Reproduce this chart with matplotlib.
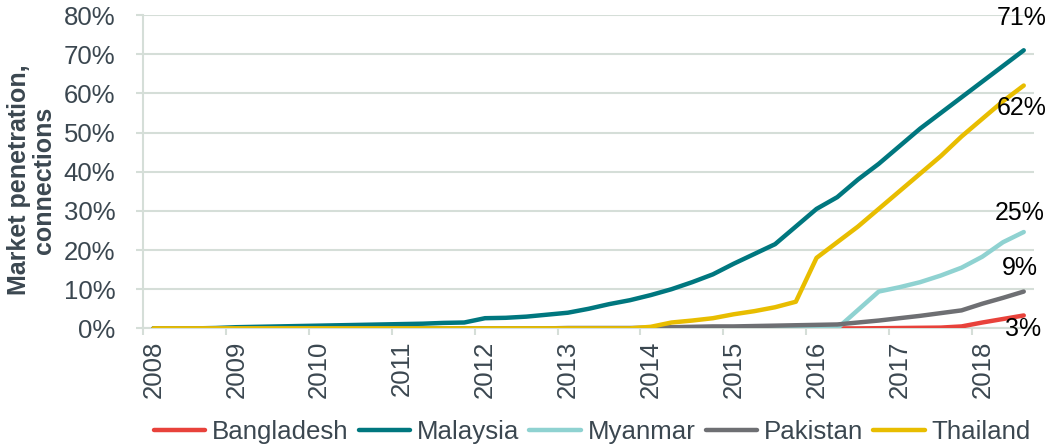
import matplotlib
matplotlib.use("Agg")
import numpy as np
import matplotlib.pyplot as plt

# quarterly values, 2008 Q1 .. 2018 Q3 (percent of connections)
years = [str(y) for y in range(2008, 2019)]
countries = ["Bangladesh", "Malaysia", "Myanmar", "Pakistan", "Thailand"]
colors = ["#e8423b", "#00777f", "#8fd2d1", "#6e6f73", "#e8bd00"]

bangladesh = [np.nan] * 33 + [0.0, 0.0, 0.05, 0.1, 0.15, 0.2, 0.5, 1.5, 2.4, 3.3]
malaysia = [0.0, 0.0, 0.0, 0.1, 0.3, 0.4, 0.5, 0.6, 0.7, 0.8, 0.9, 1.0,
            1.1, 1.2, 1.4, 1.5, 2.6, 2.7, 3.0, 3.5, 4.0, 5.0, 6.2, 7.2,
            8.5, 10.0, 11.8, 13.8, 16.5, 19.0, 21.5, 26.0, 30.5, 33.5, 38.0, 42.0,
            46.5, 51.0, 55.0, 59.0, 63.0, 67.0, 71.0]
myanmar = [0.0] * 34 + [4.7, 9.4, 10.5, 11.8, 13.5, 15.5, 18.3, 22.0, 24.6]
pakistan = [0.0] * 20 + [0.1, 0.1, 0.1, 0.1, 0.2, 0.3, 0.4, 0.5, 0.5, 0.6, 0.7, 0.8,
                         0.9, 1.0, 1.5, 2.0, 2.6, 3.2, 3.9, 4.6, 6.3, 7.8, 9.4]
thailand = [0.0] * 24 + [0.4, 1.5, 2.0, 2.6, 3.6, 4.4, 5.4, 6.8, 18.0, 22.0,
                         26.0, 30.5, 35.0, 39.5, 44.0, 49.0, 53.5, 58.0, 62.0]
series = [bangladesh, malaysia, myanmar, pakistan, thailand]

# end-label offsets (pixels) from the last point of each series
label_offsets = [(-1, -14), (-2, 32), (-4, 19), (-4, 24), (-2, -22)]

TEXT = "#3b4750"
GRID = "#d5ded8"

plt.rcParams["font.family"] = ["Liberation Sans", "DejaVu Sans"]

fig = plt.figure(figsize=(10.52, 4.48), dpi=100)
ax = fig.add_axes([0.136, 0.267, 0.847, 0.6995])

x = np.arange(len(malaysia))
for name, vals, col in zip(countries, series, colors):
    ax.plot(x, vals, color=col, lw=3.2, label=name, solid_capstyle="round", zorder=3)

for vals, off in zip(series, label_offsets):
    last = vals[-1]
    ax.annotate(f"{round(last)}%", xy=(x[-1], last), xytext=off,
                textcoords="offset pixels", ha="center", va="center",
                fontsize=18, color="black", zorder=4)

ax.set_xlim(-0.5, len(x) - 0.5)
ax.set_ylim(0, 80)
ax.set_yticks(range(0, 81, 10))
ax.set_yticklabels([f"{v}%" for v in range(0, 81, 10)])
ax.yaxis.grid(True, color=GRID, lw=1.5)
ax.set_axisbelow(True)

ax.set_xticks(np.arange(0, len(x), 4))
ax.set_xticklabels(years, rotation=90)
ax.set_xticks(np.arange(-0.5, len(x), 4), minor=True)
ax.tick_params(axis="x", which="major", length=0, pad=9, labelsize=18.5, labelcolor=TEXT)
ax.tick_params(axis="x", which="minor", length=5, width=1.5, color=GRID)
ax.tick_params(axis="y", length=5, width=1.5, color=GRID, pad=15, labelsize=18.5,
               labelcolor=TEXT)

for side in ["top", "right"]:
    ax.spines[side].set_visible(False)
for side in ["left", "bottom"]:
    ax.spines[side].set_color(GRID)
    ax.spines[side].set_linewidth(1.5)

fig.text(0.03, 0.598, "Market penetration,\nconnections", rotation=90, ha="center",
         va="center", multialignment="center", fontsize=18, fontweight="bold",
         color=TEXT, linespacing=1.08)

ax.legend(loc="center", bbox_to_anchor=(0.504, -0.33), ncol=5, frameon=False,
          fontsize=18.6, handlelength=2.0, handletextpad=0.25, columnspacing=0.4,
          labelcolor=TEXT)

fig.savefig("out.png", dpi=100)
